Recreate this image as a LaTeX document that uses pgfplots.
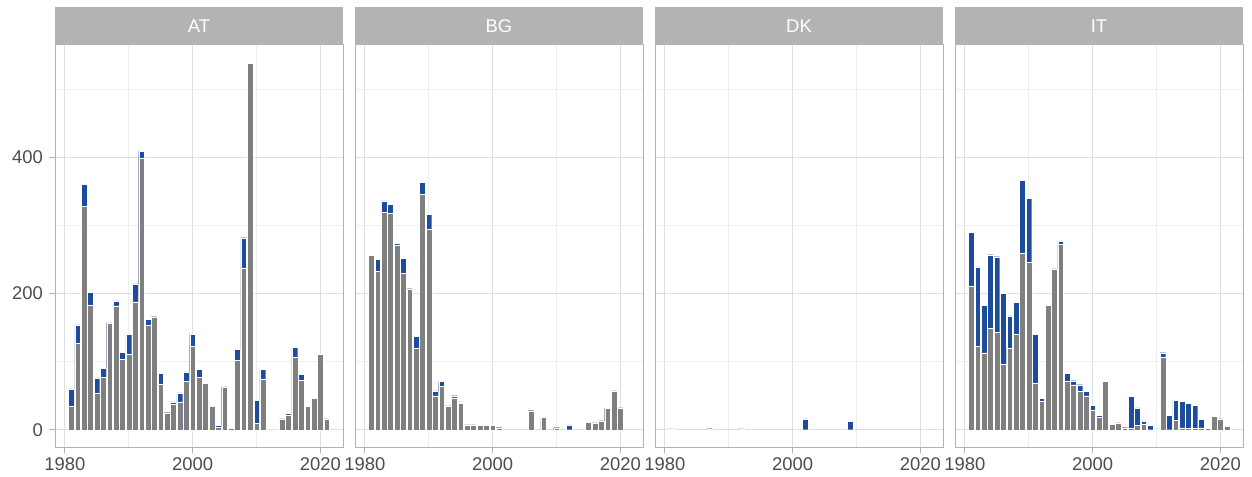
\documentclass[border=0pt]{standalone}
\usepackage{pgfplots}
\pgfplotsset{compat=1.18}
\usepackage{fontspec}
\setmainfont{Liberation Sans}
\definecolor{bblue}{HTML}{1C4C9C}
\definecolor{bgray}{HTML}{7F7F80}
\definecolor{g70}{HTML}{B3B3B3}
\definecolor{g30}{HTML}{4D4D4D}
\definecolor{gmaj}{HTML}{DEDEDE}
\definecolor{gmin}{HTML}{EEEEEE}
\pgfplotsset{
  panel/.style={
    scale only axis, width=288bp, height=403bp,
    anchor=south west,
    xmin=1978.45, xmax=2023.55, ymin=-26.9, ymax=564.9,
    xtick={1980,2000,2020}, minor xtick={1990,2010},
    ytick={0,200,400}, minor ytick={100,300,500},
    grid=both,
    major grid style={gmaj, line width=1.1bp},
    minor grid style={gmin, line width=0.6bp},
    axis line style={g70, line width=1bp},
    tick style={g70, line width=1bp},
    tick align=outside, major tick length=5.5bp, minor tick length=0pt,
    xtick pos=bottom, ytick pos=left,
    ticklabel style={font=\fontsize{18.5}{20}\selectfont, text=g30},
    xticklabel style={yshift=-1bp},
    yticklabel style={xshift=-3bp},
    /pgf/number format/assume math mode=true,
    /pgf/number format/1000 sep={},
    clip=true,
  },
  tot/.style={ybar, bar shift=0pt, bar width=0.9, fill=bblue, draw=white, line width=0.2bp},
  gr/.style={ybar, bar shift=0pt, bar width=0.9, fill=bgray, draw=white, line width=0.2bp},
}
\newcommand{\strip}[2]{%
  \fill[g70] (#1.north west) rectangle ([yshift=38bp]#1.north east);
  \node[text=white, font=\fontsize{18.5}{20}\selectfont] at ([yshift=19bp]#1.north) {#2};
}
\begin{document}
\begin{tikzpicture}
\useasboundingbox (0bp,0bp) rectangle (1252bp,477bp);
% ---------------- AT
\begin{axis}[panel, name=at, at={(55bp,29bp)}]
\addplot[tot] coordinates {(1981,60) (1982,154) (1983,360) (1984,202) (1985,76) (1986,90) (1987,157) (1988,189) (1989,114) (1990,140) (1991,214) (1992,409) (1993,162) (1994,166) (1995,83) (1996,25) (1997,41) (1998,54) (1999,85) (2000,140) (2001,89) (2002,68) (2003,34) (2004,6) (2005,63) (2006,2) (2007,118) (2008,282) (2009,538) (2010,43) (2011,89) (2014,16) (2015,24) (2016,121) (2017,81) (2018,34) (2019,46) (2020,111) (2021,16)};
\addplot[gr] coordinates {(1981,34) (1982,127) (1983,328) (1984,183) (1985,53) (1986,77) (1987,156) (1988,182) (1989,103) (1990,111) (1991,188) (1992,399) (1993,154) (1994,165) (1995,67) (1996,25) (1997,37) (1998,41) (1999,71) (2000,122) (2001,77) (2002,68) (2003,34) (2004,4) (2005,63) (2007,102) (2008,238) (2009,538) (2010,9) (2011,74) (2014,16) (2015,22) (2016,106) (2017,73) (2018,34) (2019,46) (2020,111) (2021,16)};
\end{axis}
\strip{at}{AT}
% ---------------- BG
\begin{axis}[panel, name=bg, at={(355bp,29bp)}, yticklabels={}, ytick style={draw=none}]
\addplot[tot] coordinates {(1981,256) (1982,250) (1983,336) (1984,331) (1985,274) (1986,252) (1987,207) (1988,137) (1989,363) (1990,316) (1991,57) (1992,71) (1993,35) (1994,50) (1995,41) (1996,7) (1997,7) (1998,6) (1999,6) (2000,6) (2001,3) (2006,28) (2008,18) (2010,3) (2012,7) (2015,11) (2016,10) (2017,13) (2018,31) (2019,57) (2020,32)};
\addplot[gr] coordinates {(1981,256) (1982,233) (1983,320) (1984,318) (1985,271) (1986,230) (1987,206) (1988,120) (1989,346) (1990,294) (1991,50) (1992,64) (1993,35) (1994,47) (1995,39) (1996,7) (1997,7) (1998,6) (1999,6) (2000,6) (2001,3) (2006,28) (2008,18) (2010,3) (2015,11) (2016,10) (2017,13) (2018,31) (2019,57) (2020,32)};
\end{axis}
\strip{bg}{BG}
% ---------------- DK
\begin{axis}[panel, name=dk, at={(655bp,29bp)}, yticklabels={}, ytick style={draw=none}]
\addplot[tot] coordinates {(1981,1) (1987,1.5) (1992,1) (2002,16) (2009,12)};
\addplot[gr] coordinates {(1981,1) (1992,1)};
\end{axis}
\strip{dk}{DK}
% ---------------- IT
\begin{axis}[panel, name=it, at={(955bp,29bp)}, yticklabels={}, ytick style={draw=none}]
\addplot[tot] coordinates {(1981,290) (1982,239) (1983,183) (1984,257) (1985,254) (1986,200) (1987,167) (1988,187) (1989,366) (1990,340) (1991,140) (1992,46) (1993,183) (1994,236) (1995,277) (1996,83) (1997,72) (1998,66) (1999,56) (2000,36) (2001,21) (2002,71) (2003,9) (2004,10) (2005,3) (2006,49) (2007,32) (2008,13) (2009,6) (2010,1) (2011,113) (2012,21) (2013,43) (2014,42) (2015,39) (2016,36) (2017,15) (2018,2) (2019,20) (2020,16) (2021,5)};
\addplot[gr] coordinates {(1981,211) (1982,122) (1983,113) (1984,149) (1985,143) (1986,96) (1987,120) (1988,140) (1989,259) (1990,246) (1991,68) (1992,42) (1993,183) (1994,236) (1995,272) (1996,71) (1997,66) (1998,56) (1999,50) (2000,29) (2001,18) (2002,71) (2003,8) (2004,10) (2005,3) (2006,2) (2007,6) (2008,8) (2011,107) (2013,14) (2014,3) (2015,2) (2016,2) (2017,3) (2018,2) (2019,20) (2020,16) (2021,5)};
\end{axis}
\strip{it}{IT}
\end{tikzpicture}
\end{document}
